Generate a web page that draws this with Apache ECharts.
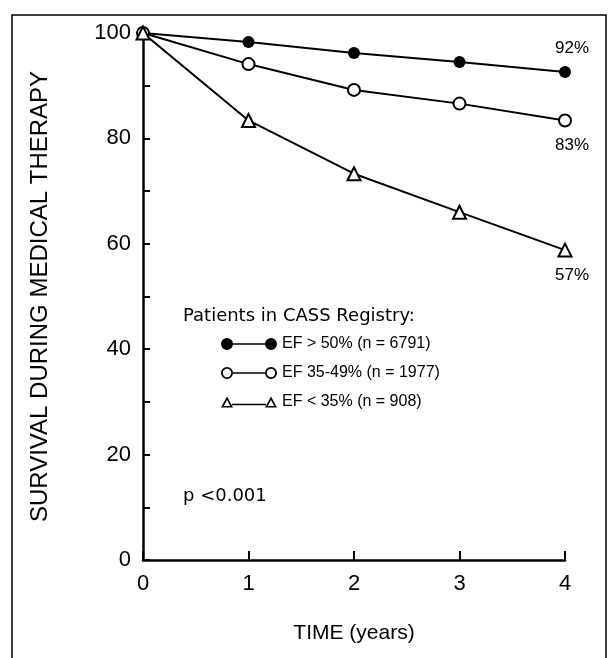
<!DOCTYPE html>
<html>
<head>
<meta charset="utf-8">
<script src="https://cdn.jsdelivr.net/npm/echarts@6/dist/echarts.min.js"></script>
<style>
  html, body { margin: 0; padding: 0; background: #fff; }
  #main { width: 612px; height: 658px; }
</style>
</head>
<body>
<div id="main"></div>
<script>
var years = [0, 1, 2, 3, 4];
var efHigh = [100, 98.3, 96.2, 94.5, 92.6];   // EF >= 50%
var efMid = [100, 94.1, 89.2, 86.6, 83.4];    // EF 35-49%
var efLow = [100, 83.4, 73.3, 66.0, 58.8];    // EF < 35%
var seriesNames = ['EF > 50% (n = 6791)', 'EF 35-49% (n = 1977)', 'EF < 35% (n = 908)'];
var endLabels = ['92%', '83%', '57%'];

var font = 'Liberation Sans, Arial, sans-serif';
var wideFont = 'DejaVu Sans, sans-serif';

function pairs(vals) {
    return vals.map(function (v, i) { return [years[i], v]; });
}

// attach the percentage label to the last point
function withEndLabel(vals, text, pos) {
    var d = pairs(vals);
    var last = d.length - 1;
    d[last] = {
        value: d[last],
        label: {
            show: true, position: pos, distance: 9, offset: [7, 0],
            formatter: text, color: '#000', fontSize: 17, fontFamily: font
        }
    };
    return d;
}

// legend icons: marker - line - marker
var iconFilled = 'path://M0,6A6,6 0 1,1 12,6A6,6 0 1,1 0,6Z M11,5.2L45,5.2L45,6.8L11,6.8Z M44,6A6,6 0 1,1 56,6A6,6 0 1,1 44,6Z';
var iconOpen = 'path://M0,6A6,6 0 1,1 12,6A6,6 0 1,1 0,6Z M1.8,6A4.2,4.2 0 1,0 10.2,6A4.2,4.2 0 1,0 1.8,6Z M12,5.2L44,5.2L44,6.8L12,6.8Z M44,6A6,6 0 1,1 56,6A6,6 0 1,1 44,6Z M45.8,6A4.2,4.2 0 1,0 54.2,6A4.2,4.2 0 1,0 45.8,6Z';
var iconTri = 'path://M0,12L6,1L12,12Z M2.8,10.6L9.2,10.6L6,4.6Z M11,8.2L45,8.2L45,9.8L11,9.8Z M44,12L50,1L56,12Z M46.8,10.6L53.2,10.6L50,4.6Z';

var chart = echarts.init(document.getElementById('main'));

var option = {
    backgroundColor: '#fff',
    animation: false,
    textStyle: { fontFamily: font, color: '#000' },
    graphic: [{
        type: 'rect',
        shape: { x: 12, y: 15, width: 594, height: 660 },
        style: { fill: 'none', stroke: '#000', lineWidth: 1.5 },
        silent: true
    }],
    title: [{
        text: 'Patients in CASS Registry:',
        left: 178, top: 302,
        textStyle: { fontSize: 18, fontWeight: 'normal', color: '#000', fontFamily: wideFont }
    }, {
        text: 'p <0.001',
        left: 178, top: 482,
        textStyle: { fontSize: 18, fontWeight: 'normal', color: '#000', fontFamily: wideFont }
    }],
    legend: {
        orient: 'vertical',
        left: 216, top: 331,
        itemWidth: 56, itemHeight: 12,
        itemGap: 13,
        textStyle: { fontSize: 16, color: '#000', fontFamily: font },
        data: [
            { name: seriesNames[0], icon: iconFilled, itemStyle: { color: '#000', borderWidth: 0 } },
            { name: seriesNames[1], icon: iconOpen, itemStyle: { color: '#000', borderWidth: 0 } },
            { name: seriesNames[2], icon: iconTri, itemStyle: { color: '#000', borderWidth: 0 } }
        ]
    },
    grid: { left: 143, right: 47, top: 33, bottom: 98, containLabel: false },
    xAxis: {
        type: 'value', min: 0, max: 4, interval: 1,
        name: 'TIME (years)', nameLocation: 'middle', nameGap: 63,
        nameTextStyle: { fontSize: 21, color: '#000', fontFamily: font },
        axisLine: { onZero: false, lineStyle: { color: '#000', width: 2.5 } },
        axisTick: { inside: true, length: 9, lineStyle: { color: '#000', width: 2 } },
        axisLabel: { fontSize: 22, color: '#000', margin: 13, fontFamily: font },
        splitLine: { show: false }
    },
    yAxis: {
        type: 'value', min: 0, max: 100, interval: 10,
        name: 'SURVIVAL DURING MEDICAL THERAPY', nameLocation: 'middle', nameGap: 91,
        nameTextStyle: { fontSize: 24, color: '#000', fontFamily: font },
        axisLine: { show: true, onZero: false, lineStyle: { color: '#000', width: 2.5 } },
        axisTick: { show: true, inside: true, length: 7, lineStyle: { color: '#000', width: 2 } },
        axisLabel: {
            fontSize: 22, color: '#000', margin: 12, fontFamily: font,
            formatter: function (v) { return v % 20 === 0 ? v : ''; }
        },
        splitLine: { show: false }
    },
    series: [{
        name: seriesNames[0], type: 'line',
        data: withEndLabel(efHigh, endLabels[0], 'top'),
        symbol: 'circle', symbolSize: 12,
        lineStyle: { color: '#000', width: 2 },
        itemStyle: { color: '#000', borderColor: '#000', borderWidth: 0 },
        z: 3
    }, {
        name: seriesNames[1], type: 'line',
        data: withEndLabel(efMid, endLabels[1], 'bottom'),
        symbol: 'circle', symbolSize: 12,
        lineStyle: { color: '#000', width: 2 },
        itemStyle: { color: '#fff', borderColor: '#000', borderWidth: 2 },
        z: 3
    }, {
        name: seriesNames[2], type: 'line',
        data: withEndLabel(efLow, endLabels[2], 'bottom'),
        symbol: 'triangle', symbolSize: 13,
        lineStyle: { color: '#000', width: 2 },
        itemStyle: { color: '#fff', borderColor: '#000', borderWidth: 2 },
        z: 3
    }]
};

chart.setOption(option);
</script>
</body>
</html>
